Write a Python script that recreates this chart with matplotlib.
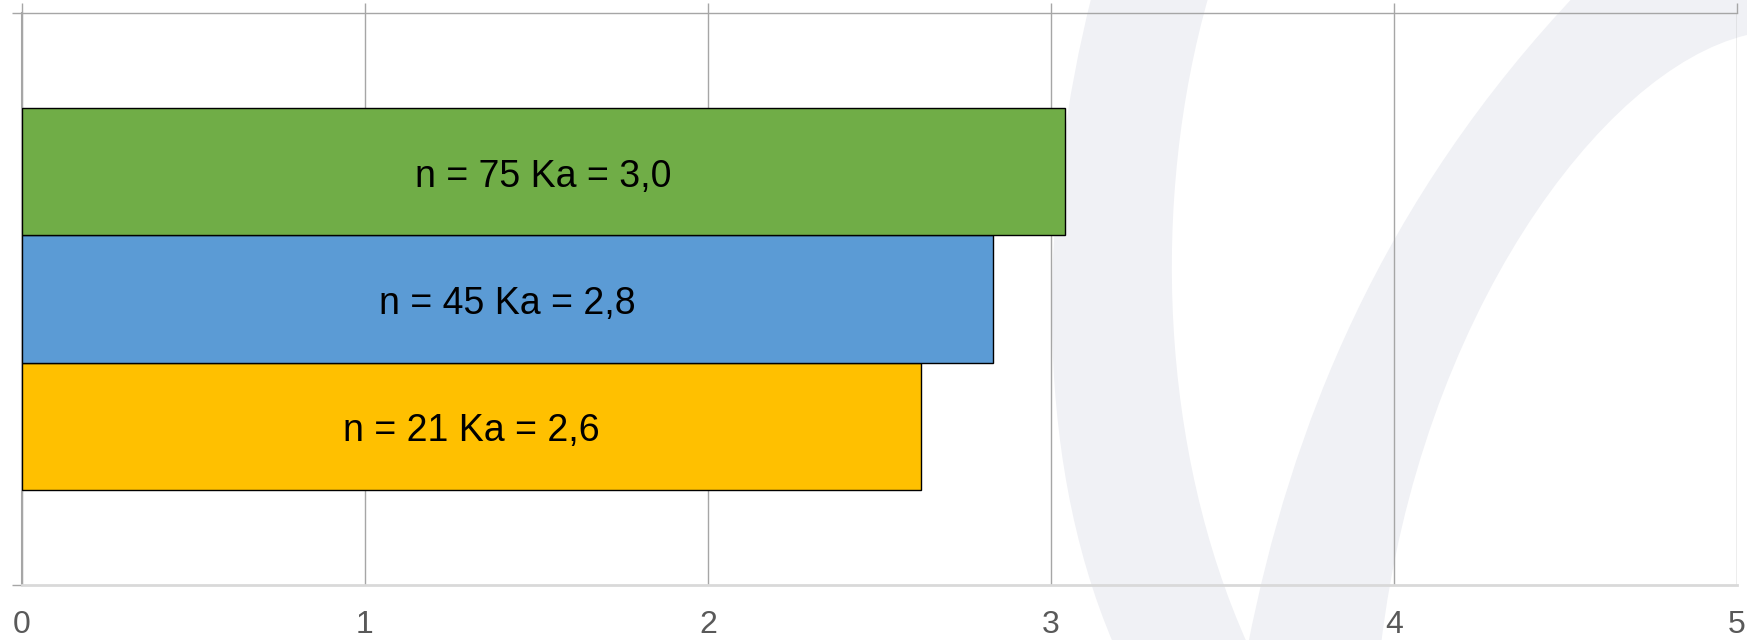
import numpy as np
import matplotlib
matplotlib.use("Agg")
import matplotlib.pyplot as plt
from matplotlib.path import Path
from matplotlib.patches import PathPatch

# data
labels = ["n = 21 Ka = 2,6", "n = 45 Ka = 2,8", "n = 75 Ka = 3,0"]
values = [2.62, 2.83, 3.04]
colors = ["#ffc000", "#5b9bd5", "#70ad47"]
xticks = [0, 1, 2, 3, 4, 5]

W, H = 1747, 640
plt.rcParams["font.family"] = ["Liberation Sans", "DejaVu Sans"]
fig = plt.figure(figsize=(W / 100, H / 100), dpi=100)


def px(x, y):
    return (x / W, 1 - y / H)


# light watermark behind the chart
def watermark(verts, codes):
    v = [px(x, y) for x, y in verts]
    p = PathPatch(Path(v, codes), transform=fig.transFigure,
                  facecolor="#f0f1f5", edgecolor="none", zorder=0)
    fig.add_artist(p)


M, C, L, Z = Path.MOVETO, Path.CURVE4, Path.LINETO, Path.CLOSEPOLY
watermark([(1092, -5), (1040, 200), (1030, 450), (1114, 645),
           (1248, 645), (1160, 450), (1150, 200), (1209, -5), (1092, -5)],
          [M, C, C, C, L, C, C, C, Z])
watermark([(1248, 645), (1290, 430), (1380, 200), (1580, -10),
           (1760, -10), (1760, 33), (1747, 35),
           (1600, 70), (1420, 320), (1381, 645), (1248, 645)],
          [M, C, C, C, L, L, L, C, C, C, Z])

ax = fig.add_axes([22 / W, 1 - 585 / H, (1737 - 22) / W, (585 - 13) / H])
ax.set_facecolor("none")
ax.set_zorder(1)

ypos = np.arange(len(values))
ax.barh(ypos, values, height=1.0, color=colors, edgecolor="black",
        linewidth=1.0, zorder=3)
for y, v, t in zip(ypos, values, labels):
    ax.text(v / 2, y - 0.04, t, ha="center", va="center", fontsize=27,
            color="black", zorder=4)

ax.set_xlim(0, 5)
ax.set_ylim(-1.25, 3.25)
ax.set_xticks(xticks)
ax.set_xticklabels([str(t) for t in xticks])
ax.set_yticks([-1.25, 3.25])
ax.set_yticklabels([])
ax.grid(axis="x", color="#a6a6a6", linewidth=1.0, zorder=1)

ax.spines["right"].set_visible(False)
ax.spines["top"].set_color("#a6a6a6")
ax.spines["top"].set_linewidth(1.0)
ax.spines["left"].set_color("#a6a6a6")
ax.spines["left"].set_linewidth(1.5)
ax.spines["bottom"].set_color("#d9d9d9")
ax.spines["bottom"].set_linewidth(2.0)

ax.tick_params(axis="x", bottom=False, top=True, length=7, width=1.0,
               color="#a6a6a6", labelsize=23, labelcolor="#595959", pad=11)
ax.tick_params(axis="y", left=True, length=7, width=1.0, color="#a6a6a6")

fig.savefig("out.png", dpi=100)
